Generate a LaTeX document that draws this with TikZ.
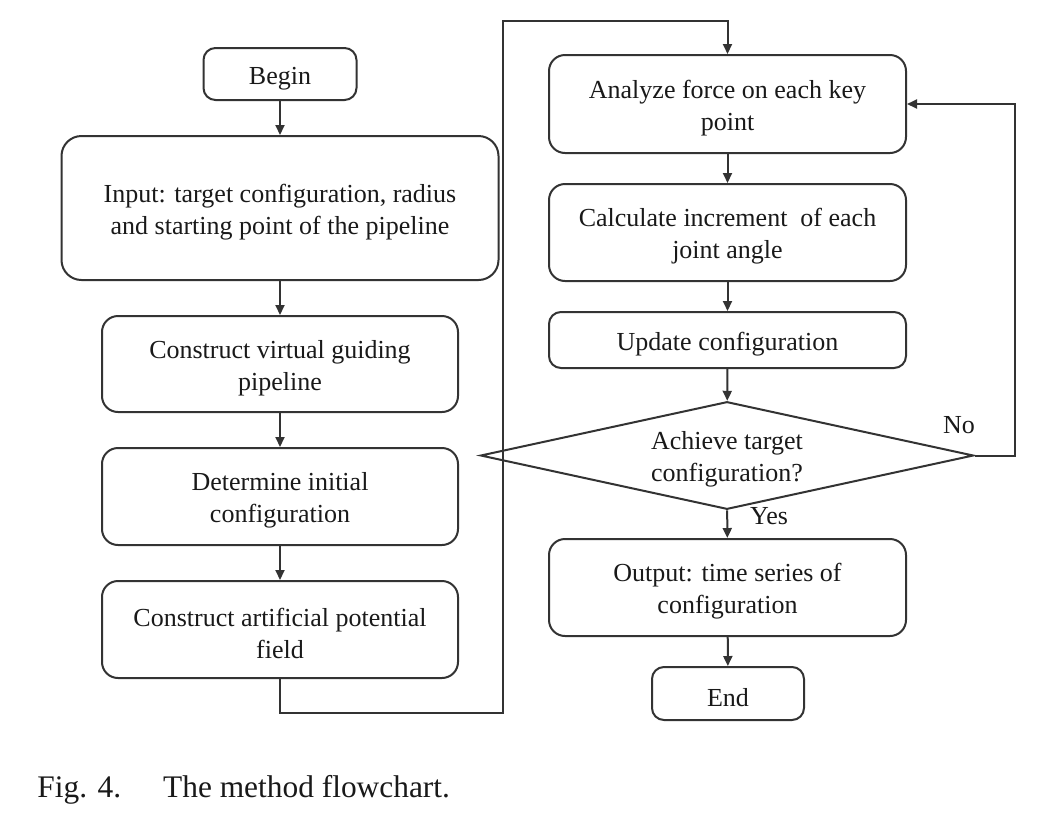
\documentclass[tikz,border=0pt]{standalone}
\usepackage{fontspec}
\setmainfont{Liberation Serif}
\usetikzlibrary{shapes.geometric,arrows.meta}

\newcommand*{\lcolx}{280}
\newcommand*{\rcolx}{727.5}
\newcommand*{\jumpx}{503}
\newcommand*{\loopx}{1015}
\newcommand*{\tgap}{\rule{0pt}{13pt}}

\begin{document}
\begin{tikzpicture}
[
	x=0.5pt,y=-0.5pt,
	procbox/.style={rectangle,draw=black!80,text=black!90,line width=1pt,rounded corners=8pt,align=center,inner sep=2pt,font=\fontsize{13pt}{16pt}\selectfont},
	decbox/.style={diamond,draw=black!80,text=black!90,line width=1pt,aspect=4.6,inner sep=0pt,align=center,font=\fontsize{13pt}{16pt}\selectfont},
	flowarrow/.style={draw=black!80,-{Triangle[length=5pt,width=4.5pt]},line width=1pt},
	lbl/.style={inner sep=0pt,text=black!90,font=\fontsize{13pt}{16pt}\selectfont}
]

	\useasboundingbox (0,0) rectangle (1044,815);

	% left column
	\node[procbox,rounded corners=6pt,minimum width=76.5pt,minimum height=26pt] (begin) at (\lcolx,74) {\tgap Begin};
	\node[procbox,rounded corners=10pt,minimum width=218.5pt,minimum height=72pt] (input) at (\lcolx,208) {\tgap Input: target configuration, radius\\and starting point of the pipeline};
	\node[procbox,minimum width=178pt,minimum height=48pt] (guide) at (\lcolx,364) {\tgap Construct virtual guiding\\pipeline};
	\node[procbox,minimum width=178pt,minimum height=48.5pt] (init) at (\lcolx,496.5) {\tgap Determine initial\\configuration};
	\node[procbox,minimum width=178pt,minimum height=48.5pt] (field) at (\lcolx,629.5) {\tgap Construct artificial potential\\field};

	% right column
	\node[procbox,minimum width=178.5pt,minimum height=49pt] (force) at (\rcolx,104) {\tgap Analyze force on each key\\point};
	\node[procbox,minimum width=178.5pt,minimum height=48.5pt] (incr) at (\rcolx,232.5) {\tgap Calculate increment\ \ of each\\joint angle};
	\node[procbox,rounded corners=6pt,minimum width=178.5pt,minimum height=28pt] (update) at (\rcolx,340) {\tgap Update configuration};
	\node[decbox,minimum width=246.5pt,minimum height=53.8pt] (check) at (727,455.5) {\tgap Achieve target\\configuration?};
	\node[procbox,minimum width=178.5pt,minimum height=48.5pt] (output) at (\rcolx,587.5) {\tgap Output: time series of\\configuration};
	\node[procbox,rounded corners=6pt,minimum width=76pt,minimum height=26.5pt] (end) at (728,693.5) {\tgap End};

	% straight arrows
	\draw[flowarrow] (begin) -- (input);
	\draw[flowarrow] (input) -- (guide);
	\draw[flowarrow] (guide) -- (init);
	\draw[flowarrow] (init) -- (field);
	\draw[flowarrow] (force) -- (incr);
	\draw[flowarrow] (incr) -- (update);
	\draw[flowarrow] (update) -- (check);
	\draw[flowarrow] (check) -- (output);
	\draw[flowarrow] (output) -- (end);

	% jump to the right column
	\coordinate (jumpbot) at (\jumpx,713);
	\coordinate (jumptop) at (\jumpx,21);
	\draw[flowarrow] (field.south) |- (jumpbot) -- (jumptop) -| (force.north);

	% loop back
	\coordinate (loopcorner) at (\loopx,455.5);
	\draw[flowarrow] (check.east) -- (loopcorner) |- (force.east);

	% labels
	\node[lbl] (nolabel) at (959,425) {No};
	\node[lbl] (yeslabel) at (769,516) {Yes};

	% caption
	\node[lbl,anchor=base west,font=\fontsize{15.7pt}{19pt}\selectfont] (caption) at (37,797) {Fig. 4.\hspace{21pt}The method flowchart.};

\end{tikzpicture}
\end{document}
